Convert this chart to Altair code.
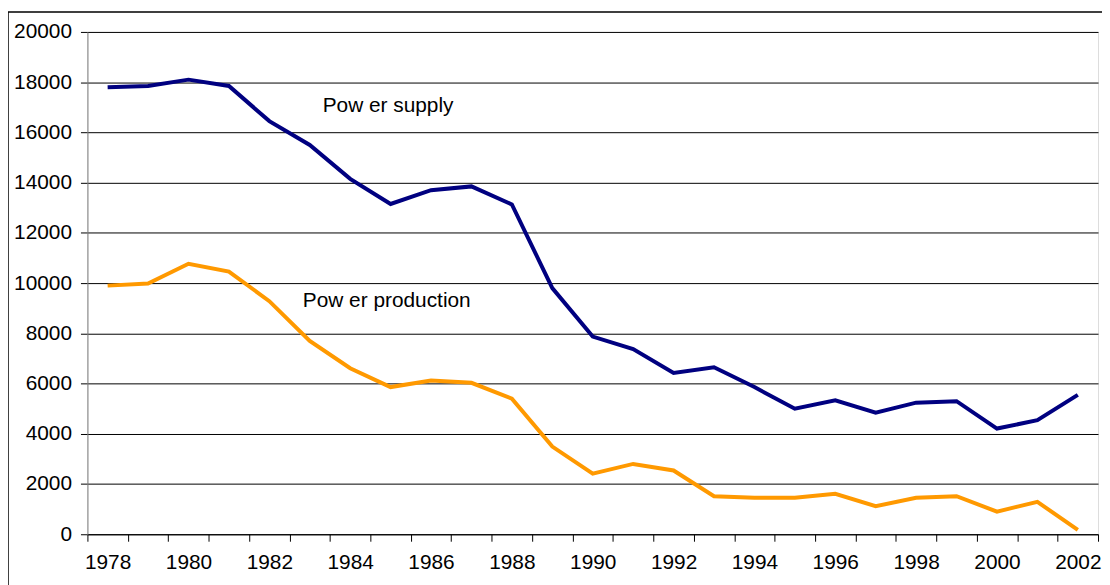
import altair as alt
import pandas as pd

years = list(range(1978, 2003))
power_supply = [17800, 17850, 18100, 17850, 16450, 15500, 14150, 13150, 13700, 13850,
                13130, 9800, 7870, 7370, 6420, 6650, 5860, 5000, 5330, 4840,
                5240, 5300, 4210, 4540, 5550]
power_production = [9900, 9980, 10770, 10460, 9280, 7700, 6610, 5860, 6120, 6030,
                    5400, 3490, 2410, 2800, 2540, 1515, 1450, 1450, 1610, 1120,
                    1450, 1515, 900, 1290, 175]

series_names = ["Power supply", "Power production"]
series_colors = ["#000080", "#FF9900"]

label_texts = ["Pow er supply", "Pow er production"]
label_years = [1983, 1983]
label_values = [17050, 9270]
label_dx = [13, -7]

rows = []
for i, y in enumerate(years):
    rows.append({"year": y, "series": series_names[0], "value": power_supply[i]})
    rows.append({"year": y, "series": series_names[1], "value": power_production[i]})
df = pd.DataFrame(rows)

FONT = "Liberation Sans"
FS = 21

x_enc = alt.X(
    "year:O",
    scale=alt.Scale(type="band", paddingInner=0, paddingOuter=0),
    axis=alt.Axis(
        title=None,
        labelAngle=0,
        tickBand="extent",
        labelExpr="datum.value % 2 == 0 ? datum.label : ''",
        labelFont=FONT,
        labelFontSize=FS,
        labelColor="#000000",
        labelPadding=10,
        tickSize=7,
        tickColor="#000000",
        domainColor="#000000",
        grid=False,
    ),
)

y_enc = alt.Y(
    "value:Q",
    scale=alt.Scale(domain=[0, 20000], nice=False),
    axis=alt.Axis(
        title=None,
        values=list(range(0, 20001, 2000)),
        format="d",
        labelFont=FONT,
        labelFontSize=FS,
        labelColor="#000000",
        labelPadding=9,
        tickSize=7,
        tickColor="#000000",
        domainColor="#808080",
        grid=True,
        gridColor="#000000",
        gridWidth=1,
    ),
)

lines = alt.Chart(df).mark_line(strokeWidth=4, strokeJoin="miter").encode(
    x=x_enc,
    y=y_enc,
    color=alt.Color("series:N", scale=alt.Scale(domain=series_names, range=series_colors), legend=None),
    detail="series:N",
)

labels_df = pd.DataFrame({"year": label_years, "value": label_values, "text": label_texts, "dx": label_dx})
lab1 = alt.Chart(labels_df.iloc[[0]]).mark_text(
    align="left", baseline="middle", font=FONT, fontSize=FS, color="#000000", dx=label_dx[0]
).encode(x="year:O", y="value:Q", text="text:N")
lab2 = alt.Chart(labels_df.iloc[[1]]).mark_text(
    align="left", baseline="middle", font=FONT, fontSize=FS, color="#000000", dx=label_dx[1]
).encode(x="year:O", y="value:Q", text="text:N")

border = alt.Chart(pd.DataFrame({"a": [0]})).mark_rect(
    fill=None, stroke="#000000", strokeWidth=1.5
).encode(
    x=alt.value(-80), x2=alt.value(1030), y=alt.value(-20), y2=alt.value(570)
)

chart = alt.layer(border, lines, lab1, lab2).properties(
    width=1018, height=506,
    autosize=alt.AutoSizeParams(type="none"),
    padding={"left": 80, "top": 22, "right": 4, "bottom": 49},
).configure_view(stroke=None).configure(background="#ffffff")

chart.save("out.html", embed_options={"renderer": "svg", "actions": False})
